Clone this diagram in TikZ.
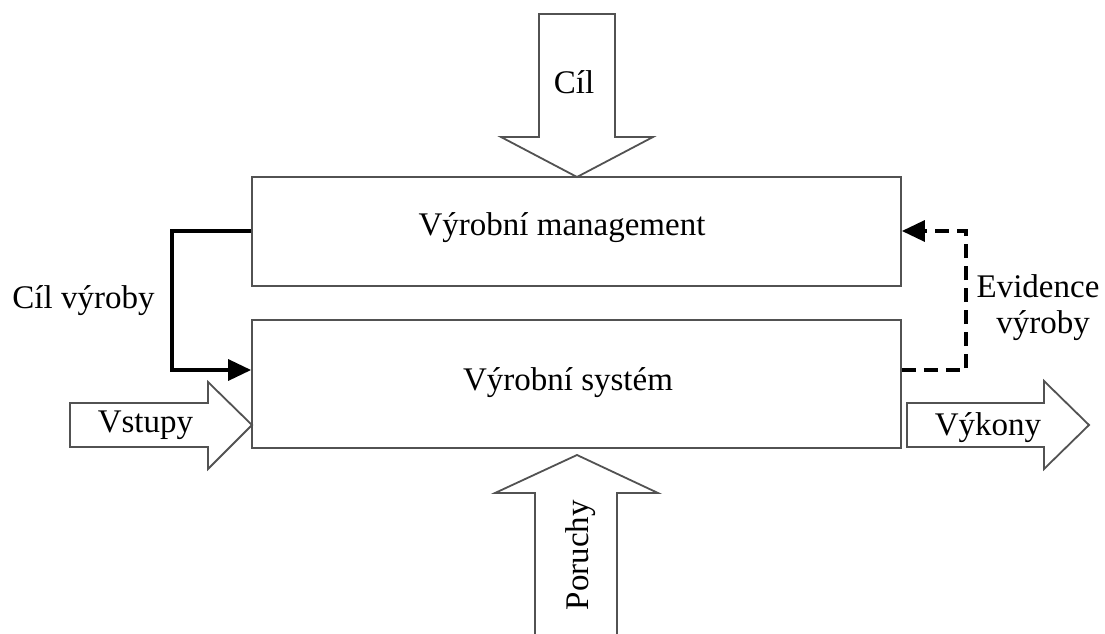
\documentclass[tikz,border=0pt]{standalone}
\usepackage{fontspec}
\setmainfont{Liberation Serif}
\usetikzlibrary{arrows.meta}
\begin{document}
\begin{tikzpicture}[x=1pt,y=-1pt,
  font=\fontsize{33}{37}\selectfont,
  block/.style={draw=black!68,line width=1.8pt,minimum width=649pt,inner sep=0pt},
  bigarrow/.style={draw=black!68,line width=1.8pt,fill=white,line join=miter},
  txt/.style={anchor=base,inner sep=0pt},
  flow/.style={line width=3.4pt,-{Triangle[length=23pt,width=21pt]}},
  feedback/.style={flow,dash pattern=on 14pt off 8pt}]
\useasboundingbox (0,0) rectangle (1105,634);

% the two main blocks
\node[block,minimum height=109pt] (mgmt) at (576.5,231.5) {};
\node[block,minimum height=128pt] (sys) at (576.5,384) {};

% block arrows
\draw[bigarrow] (539,14) -- (615,14) -- (615,137) -- (653,137) -- (577,177)
  -- (501,137) -- (539,137) -- cycle;
\draw[bigarrow] (70,403) -- (208,403) -- (208,382) -- (252,425) -- (208,469)
  -- (208,447) -- (70,447) -- cycle;
\draw[bigarrow] (907,403) -- (1044,403) -- (1044,381) -- (1089,425) -- (1044,469)
  -- (1044,447) -- (907,447) -- cycle;
\draw[bigarrow] (535,645) -- (535,493) -- (495,493) -- (577,455) -- (658,493)
  -- (617,493) -- (617,645);

% texts
\node[txt] (cil) at (574,93) {Cíl};
\node[txt] (mgmttext) at (562,235) {Výrobní management};
\node[txt] (systext) at (568,390) {Výrobní systém};
\node[txt] (cilvyroby) at (83.5,308) {Cíl výroby};
\node[txt] (evid1) at (1038,297) {Evidence};
\node[txt] (evid2) at (1043,333) {výroby};
\node[txt] (vstupy) at (145.5,432) {Vstupy};
\node[txt] (vykony) at (988,435) {Výkony};
\node[txt,rotate=90] (poruchy) at (588,555) {Poruchy};

% control and feedback links
\draw[flow] ([yshift=0.5pt]mgmt.west) -- ++(-79,0) |- ([yshift=14pt]sys.west);
\draw[feedback] ([yshift=14pt]sys.east) -- ++(64,0) |- ([yshift=0.5pt]mgmt.east);
\end{tikzpicture}
\end{document}
